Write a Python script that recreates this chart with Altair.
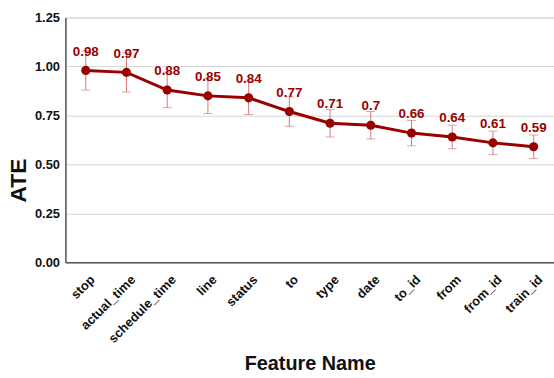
import altair as alt
import pandas as pd

features = ["stop", "actual_time", "schedule_time", "line", "status", "to",
            "type", "date", "to_id", "from", "from_id", "train_id"]
ate = [0.98, 0.97, 0.88, 0.85, 0.84, 0.77, 0.71, 0.70, 0.66, 0.64, 0.61, 0.59]
err = [0.10, 0.10, 0.09, 0.09, 0.085, 0.075, 0.07, 0.07, 0.065, 0.06, 0.06, 0.06]
y_ticks = [0.0, 0.25, 0.5, 0.75, 1.0, 1.25]

df = pd.DataFrame({
    "feature": features,
    "ate": ate,
    "lo": [a - e for a, e in zip(ate, err)],
    "hi": [a + e for a, e in zip(ate, err)],
    "label": [f"{a:g}" for a in ate],
})

FONT = "Liberation Sans Narrow, Arial Narrow, Liberation Sans, sans-serif"
DARK_RED = "#990000"
ERR_RED = "#d07a7a"

x = alt.X("feature:N", sort=features, title="Feature Name",
          scale=alt.Scale(paddingInner=0, paddingOuter=0),
          axis=alt.Axis(labelAngle=-45, labelAlign="right", labelBaseline="middle",
                        labelPadding=15, labelOffset=7, ticks=False, grid=False,
                        labelFont=FONT, labelFontSize=13, labelFontWeight="bold",
                        labelColor="#111", titleFont=FONT, titleFontSize=20,
                        titleFontWeight="bold", titleColor="#111",
                        titleY=102, titleBaseline="middle",
                        domainColor="#555", domainWidth=1.5))
y_scale = alt.Scale(domain=[0, 1.25], nice=False)

base = alt.Chart(df)

rules = base.mark_rule(color=ERR_RED, strokeWidth=1).encode(
    x=x, y=alt.Y("lo:Q", scale=y_scale), y2="hi:Q")
caps_lo = base.mark_tick(color=ERR_RED, size=9, thickness=1).encode(
    x=x, y=alt.Y("lo:Q", scale=y_scale))
caps_hi = base.mark_tick(color=ERR_RED, size=9, thickness=1).encode(
    x=x, y=alt.Y("hi:Q", scale=y_scale))

line = base.mark_line(color=DARK_RED, strokeWidth=3).encode(
    x=x,
    y=alt.Y("ate:Q", scale=y_scale, title="ATE",
            axis=alt.Axis(values=y_ticks, format=".2f", ticks=False,
                          labelFont=FONT, labelFontSize=13, labelFontWeight="bold",
                          labelColor="#111", labelPadding=6,
                          titleFont=FONT, titleFontSize=23, titleFontWeight="bold",
                          titleColor="#111", titleX=-47, titleY=164,
                          titleBaseline="middle", titleAlign="center",
                          gridColor="#d4d4d4", gridWidth=1,
                          domainColor="#555", domainWidth=1.5)))
points = base.mark_circle(color=DARK_RED, size=85, opacity=1).encode(
    x=x, y=alt.Y("ate:Q", scale=y_scale))
labels = base.mark_text(color=DARK_RED, font=FONT, fontSize=13.5, fontWeight="bold",
                        dy=-19).encode(
    x=x, y=alt.Y("ate:Q", scale=y_scale), text="label:N")

chart = alt.layer(rules, caps_lo, caps_hi, line, points, labels).properties(
    width=493, height=247,
    autosize=alt.AutoSizeParams(type="none"),
    padding={"left": 66, "top": 16, "right": 0, "bottom": 115},
).configure_view(stroke=None).configure(background="white")

chart.save("out.html", embed_options={"renderer": "svg", "actions": False})
